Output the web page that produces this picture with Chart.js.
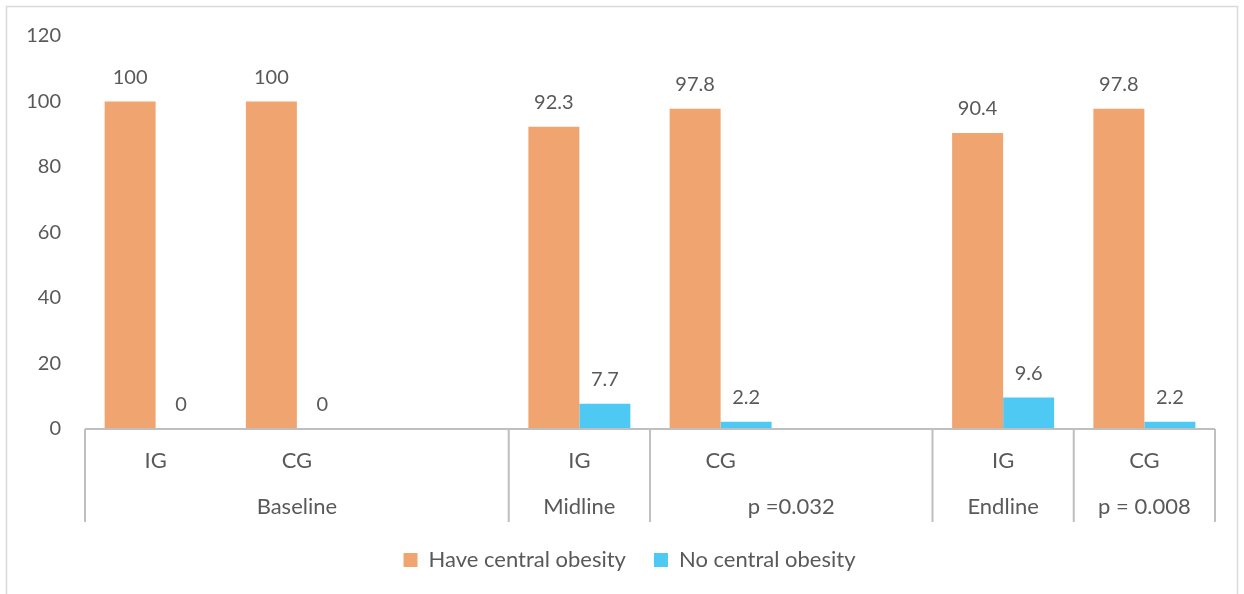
<!DOCTYPE html>
<html>
<head>
<meta charset="utf-8">
<script src="https://cdn.jsdelivr.net/npm/chart.js@4"></script>
<style>
  html, body { margin: 0; padding: 0; background: #ffffff; }
  #wrap { width: 1244px; height: 594px; }
</style>
</head>
<body>
<div id="wrap"><canvas id="chart" width="1244" height="594"></canvas></div>
<script>
// categories (inner level) and groups (outer level)
var categories = ['IG', 'CG', '', 'IG', 'CG', '', 'IG', 'CG'];
var groupLabels = ['Baseline', 'Midline', 'p =0.032', 'Endline', 'p = 0.008'];
var groupSizes = [3, 1, 2, 1, 1];

var haveObesity = [100, 100, null, 92.3, 97.8, null, 90.4, 97.8];
var noObesity = [0, 0, null, 7.7, 2.2, null, 9.6, 2.2];

var yTicks = [0, 20, 40, 60, 80, 100, 120];

var textColor = '#595959';
var lineColor = '#bfbfbf';
var fontFamily = 'Lato, "Open Sans", sans-serif';

Chart.defaults.font.family = fontFamily;
Chart.defaults.color = textColor;

// outer frame of the chart
var framePlugin = {
  id: 'frame',
  beforeDraw: function(chart) {
    var ctx = chart.ctx;
    ctx.save();
    ctx.fillStyle = '#ffffff';
    ctx.fillRect(0, 0, chart.width, chart.height);
    ctx.strokeStyle = '#d9d9d9';
    ctx.lineWidth = 1.5;
    ctx.strokeRect(6.5, 6.5, chart.width - 13, chart.height + 10);
    ctx.restore();
  }
};

// legend sits a bit right of the canvas centre (excel layout)
var legendShift = {
  id: 'legendShift',
  afterLayout: function(chart) {
    if (chart.legend) {
      chart.legend.left = 44;
    }
  }
};

// numbers above the bars
var valueLabels = {
  id: 'valueLabels',
  afterDatasetsDraw: function(chart) {
    var ctx = chart.ctx;
    ctx.save();
    ctx.font = '20px ' + fontFamily;
    ctx.fillStyle = textColor;
    ctx.textAlign = 'center';
    ctx.textBaseline = 'alphabetic';
    chart.data.datasets.forEach(function(ds, i) {
      var meta = chart.getDatasetMeta(i);
      meta.data.forEach(function(bar, j) {
        var v = ds.data[j];
        if (v === null || v === undefined) return;
        ctx.fillText(String(v), bar.x, bar.y - 18);
      });
    });
    ctx.restore();
  }
};

// two level category axis like excel
var multiAxis = {
  id: 'multiAxis',
  afterDraw: function(chart) {
    var ctx = chart.ctx;
    var xs = chart.scales.x;
    var top = xs.top;
    var bottom = top + 93;
    var n = categories.length;
    var step = (xs.right - xs.left) / n;

    ctx.save();
    ctx.strokeStyle = lineColor;
    ctx.lineWidth = 2;
    ctx.beginPath();
    ctx.moveTo(xs.left, top);
    ctx.lineTo(xs.right, top);
    ctx.stroke();

    ctx.font = '22px ' + fontFamily;
    ctx.fillStyle = textColor;
    ctx.textAlign = 'center';
    ctx.textBaseline = 'middle';

    for (var i = 0; i < n; i++) {
      if (categories[i]) {
        ctx.fillText(categories[i], xs.getPixelForValue(i), top + 32);
      }
    }

    var start = 0;
    var edges = [xs.left];
    for (var g = 0; g < groupSizes.length; g++) {
      var end = start + groupSizes[g];
      var x0 = xs.getPixelForValue(start) - step / 2;
      var x1 = xs.getPixelForValue(end - 1) + step / 2;
      ctx.fillText(groupLabels[g], (x0 + x1) / 2, top + 78);
      edges.push(x1);
      start = end;
    }

    ctx.beginPath();
    edges.forEach(function(x) {
      ctx.moveTo(x, top);
      ctx.lineTo(x, bottom);
    });
    ctx.stroke();
    ctx.restore();
  }
};

var chartElement = document.getElementById('chart');

var barChart = new Chart(chartElement, {
  type: 'bar',
  data: {
    labels: categories,
    datasets: [{
      label: 'Have central obesity',
      data: haveObesity,
      backgroundColor: '#f0a46f',
      borderWidth: 0
    }, {
      label: 'No central obesity',
      data: noObesity,
      backgroundColor: '#4ec9f4',
      borderWidth: 0
    }]
  },
  options: {
    responsive: false,
    animation: false,
    layout: {
      padding: { left: 0, right: 29, top: 35, bottom: 13 }
    },
    datasets: {
      bar: {
        categoryPercentage: 0.722,
        barPercentage: 1
      }
    },
    scales: {
      x: {
        grid: { display: false },
        border: { display: false },
        ticks: { display: false },
        afterFit: function(scale) { scale.height = 92; }
      },
      y: {
        min: 0,
        max: 120,
        grid: { display: false, drawTicks: false },
        border: { display: false },
        afterBuildTicks: function(scale) {
          scale.ticks = yTicks.map(function(v) { return { value: v }; });
        },
        ticks: {
          padding: 24,
          font: { size: 20 },
          color: textColor
        },
        afterFit: function(scale) { scale.width = 85; }
      }
    },
    plugins: {
      legend: {
        position: 'bottom',
        labels: {
          boxWidth: 14,
          boxHeight: 14,
          padding: 28,
          font: { size: 22 },
          color: textColor
        }
      },
      tooltip: { enabled: false }
    }
  },
  plugins: [framePlugin, legendShift, valueLabels, multiAxis]
});
</script>
</body>
</html>
